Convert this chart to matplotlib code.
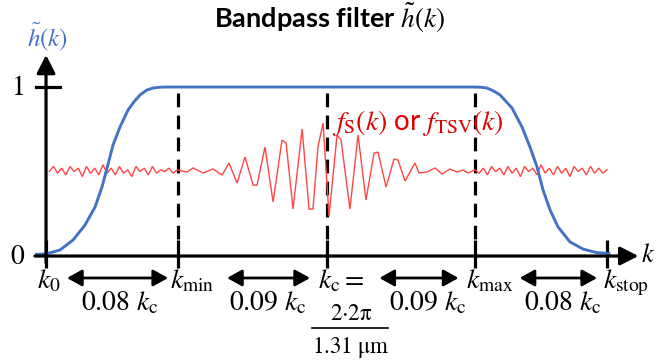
import numpy as np
import matplotlib
matplotlib.use("Agg")
import matplotlib.pyplot as plt

plt.rcParams['mathtext.fontset'] = 'stix'
plt.rcParams['font.family'] = ['Lato', 'DejaVu Sans']

# positions on the k axis, in units of 0.01 k_c
k0, kmin, kc, kmax, kstop = 83, 91, 100, 109, 117
tick_k = [k0, kmin, kc, kmax, kstop]
tick_names = ['$k_0$', r'$k_{\mathrm{min}}$', r'$k_{\mathrm{c}} =$', r'$k_{\mathrm{max}}$', r'$k_{\mathrm{stop}}$']
gap_names = [r'$0.08\ k_{\mathrm{c}}$', r'$0.09\ k_{\mathrm{c}}$', r'$0.09\ k_{\mathrm{c}}$', r'$0.08\ k_{\mathrm{c}}$']

# bandpass filter h~(k)
filt_k = [82.33, 83.0, 83.85, 84.64, 85.36, 85.97, 86.39, 86.70, 87.06, 87.48, 87.97, 88.35, 88.70,
          89.1, 89.48, 89.9, 90.33,
          108.94, 109.35, 109.73, 110.1, 110.52, 111.24, 111.85, 112.33, 112.76, 113.12, 113.55,
          114.03, 114.76, 115.55, 116.39, 117.2]
filt_h = [0.01, 0.012, 0.036, 0.095, 0.183, 0.290, 0.408, 0.521, 0.657, 0.763, 0.864, 0.915, 0.953,
          0.982, 0.994, 0.999, 1.0,
          1.0, 0.999, 0.994, 0.978, 0.953, 0.876, 0.763, 0.645, 0.527, 0.391, 0.272,
          0.172, 0.083, 0.041, 0.02, 0.015]

# signal f_S(k) / f_TSV(k)
sig_k = [83.2, 83.45, 83.7, 83.95, 84.2, 84.45, 84.7, 84.95, 85.2, 85.45, 85.7, 85.95, 86.2, 86.45,
         86.7, 86.95, 87.2, 87.45, 87.7, 87.95, 88.2, 88.45, 88.7, 88.95, 89.2, 89.45, 89.7, 89.95,
         90.2, 90.45, 90.7, 90.95,
         91.55, 91.91, 92.52, 93.12, 93.67, 94.09, 94.58, 95.06, 95.55, 95.79, 96.27, 96.76, 97.30,
         97.55, 97.97, 98.52, 98.94, 99.18, 99.48, 99.79, 100.15, 100.64, 100.88, 101.42, 101.91,
         102.39, 102.88, 103.12, 103.61, 104.09, 104.33, 104.76, 105.36, 105.61, 106.09, 106.58,
         107.00, 107.48, 107.91, 108.27, 108.58,
         109.0, 109.25, 109.5, 109.75, 110.0, 110.25, 110.5, 110.75, 111.0, 111.25, 111.5, 111.75,
         112.0, 112.25, 112.5, 112.75, 113.0, 113.25, 113.5, 113.75, 114.0, 114.25, 114.5, 114.75,
         115.0, 115.25, 115.5, 115.75, 116.0, 116.25, 116.5, 116.75, 117.0]
sig_h = [0.50, 0.53, 0.49, 0.52, 0.48, 0.53, 0.50, 0.52, 0.47, 0.53, 0.49, 0.52, 0.48, 0.54,
         0.49, 0.52, 0.48, 0.53, 0.49, 0.51, 0.47, 0.53, 0.50, 0.52, 0.48, 0.53, 0.49, 0.51,
         0.50, 0.52, 0.49, 0.51,
         0.497, 0.521, 0.491, 0.515, 0.479, 0.550, 0.432, 0.586, 0.420, 0.420, 0.645, 0.320, 0.686,
         0.669, 0.278, 0.751, 0.278, 0.278, 0.645, 0.787, 0.237, 0.716, 0.686, 0.278, 0.716,
         0.331, 0.609, 0.615, 0.408, 0.574, 0.568, 0.444, 0.550, 0.491, 0.497, 0.521,
         0.485, 0.515, 0.497, 0.509, 0.491,
         0.51, 0.49, 0.52, 0.48, 0.53, 0.50, 0.52, 0.48, 0.53, 0.49, 0.52, 0.47,
         0.53, 0.50, 0.52, 0.48, 0.54, 0.49, 0.52, 0.48, 0.53, 0.49, 0.52, 0.47,
         0.53, 0.50, 0.52, 0.48, 0.53, 0.49, 0.52, 0.49, 0.51]

blue = '#4472C4'
red_line = '#FF4545'
red_text = '#E00000'

fig = plt.figure(figsize=(6.58, 3.64), dpi=100)
ax = fig.add_axes([0, 0, 1, 1])
ax.set_xlim(80.21, 120.09)
ax.set_ylim(-0.639, 1.515)
ax.axis('off')

# axes with arrow heads
ax.annotate('', xy=(118.9, 0), xytext=(82.33, 0),
            arrowprops=dict(arrowstyle='-|>,head_length=0.55,head_width=0.28', lw=2.3,
                            color='black', mutation_scale=20, shrinkA=0, shrinkB=0))
ax.annotate('', xy=(k0, 1.19), xytext=(k0, -0.04),
            arrowprops=dict(arrowstyle='-|>,head_length=0.55,head_width=0.28', lw=2.3,
                            color='black', mutation_scale=20, shrinkA=0, shrinkB=0))
ax.plot([82.39, 83.85], [1, 1], color='black', lw=2.3)
ax.vlines(tick_k, -0.07, 0.095, color='black', lw=2.3)
ax.vlines([kmin, kc, kmax], 0.1, 0.97, color='black', lw=2.3, linestyles=(0, (4.3, 2.6)))

# curves
ax.plot(sig_k, sig_h, color=red_line, lw=1.0, solid_joinstyle='miter')
ax.plot(filt_k, filt_h, color=blue, lw=2.1, solid_capstyle='butt')

# texts
ax.text(0.5, 0.95, r'Bandpass filter $\tilde{h}(k)$', transform=ax.transAxes, ha='center',
        va='center', fontsize=19.5, fontweight='bold')
ax.text(0.072, 0.898, r'$\tilde{h}(k)$', transform=ax.transAxes, ha='center', va='center',
        fontsize=18, color=blue)
ax.text(0.027, 1, '$1$', transform=ax.get_yaxis_transform(), ha='center', va='center', fontsize=20)
ax.text(0.026, 0, '$0$', transform=ax.get_yaxis_transform(), ha='center', va='center', fontsize=20)
ax.text(0.996, 0.01, '$k$', transform=ax.get_yaxis_transform(), ha='right', va='center', fontsize=19)

label_dx = [-0.55, -0.5, -0.5, -0.55, -0.25]
for k, name, dx in zip(tick_k, tick_names, label_dx):
    ax.text(k + dx, -0.07, name, ha='left', va='top', fontsize=20)

arrow_ends = [(k0 + 1.27, kmin - 0.6), (kmin + 2.97, kc - 1.0), (kc + 3.2, kmax - 1.0),
              (kmax + 2.7, kstop - 0.6)]
gap_x = [87.5, 96.45, 106.15, 114.33]
for (a, b), name, gx in zip(arrow_ends, gap_names, gap_x):
    ax.annotate('', xy=(b, -0.13), xytext=(a, -0.13),
                arrowprops=dict(arrowstyle='<|-|>,head_length=0.45,head_width=0.25', lw=2.0,
                                color='black', mutation_scale=20, shrinkA=0, shrinkB=0))
    ax.text(gx, -0.275, name, ha='center', va='center', fontsize=20)

# k_c = 2*2pi / 1.31 um
ax.text(kc + 1.48, -0.34, r'$2{\cdot}2\mathrm{π}$', ha='center', va='center', fontsize=16.5)
ax.plot([kc - 0.88, kc + 3.73], [-0.426, -0.426], color='black', lw=1.2)
ax.text(kc + 1.45, -0.54, r'$1.31\ \mathrm{μm}$', ha='center', va='center', fontsize=16.5)

ax.text(100.35, 0.79, r'$f_{\mathrm{S}}(k)$ or $f_{\mathrm{TSV}}(k)$', ha='left', va='center',
        fontsize=20, color=red_text)

fig.savefig('out.png', dpi=100)
